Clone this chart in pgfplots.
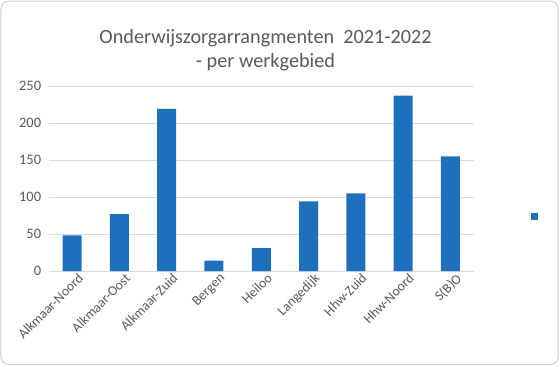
\documentclass[border=0pt]{standalone}
\usepackage{pgfplots}
\pgfplotsset{compat=1.18}
\usepackage{fontspec}
\setmainfont{Carlito}
\definecolor{barblue}{HTML}{1F70BC}
\definecolor{txtgray}{HTML}{595959}
\definecolor{gridgray}{HTML}{D9D9D9}
\definecolor{framegray}{HTML}{D0D0D0}
\pgfplotstableread{
x y
0 48
1 77
2 219
3 14
4 31
5 94
6 105
7 237
8 155
}\datatable
\begin{document}
\begin{tikzpicture}[x=1bp,y=1bp]
\useasboundingbox (-48.6,-95) rectangle (511.4,271);
\draw[framegray, line width=1bp, rounded corners=8bp] (-47.6,-93.5) rectangle (509.6,270);
\begin{axis}[
  at={(0,0)}, anchor=south west,
  scale only axis, width=425.3bp, height=185bp,
  ymin=0, ymax=250, ytick={0,50,...,250},
  xmin=-0.5, xmax=8.5, xtick={0,...,8},
  xticklabels={Alkmaar-Noord,Alkmaar-Oost,Alkmaar-Zuid,Bergen,Heiloo,Langedijk,Hhw-Zuid,Hhw-Noord,S(B)O},
  ybar, bar width=19bp,
  ymajorgrids, major grid style={gridgray, line width=0.9bp},
  axis line style={draw=none},
  major tick length=0pt,
  tick label style={txtgray, font=\fontsize{14.5}{16}\selectfont},
  /pgf/number format/assume math mode=true,
  yticklabel style={xshift=-4bp},
  xticklabel style={rotate=45, anchor=north east, yshift=-1bp, xshift=6bp, font=\fontsize{13.8}{16}\selectfont},
  title={Onderwijszorgarrangmenten\ \ 2021-2022\\- per werkgebied},
  title style={align=center, txtgray, font=\fontsize{20.3}{24}\selectfont, at={(0.51,1)}, anchor=south, yshift=6bp},
  legend style={at={(1.147,0.295)}, anchor=center, draw=none, fill=none},
  legend image code/.code={\fill[barblue] (-3.5bp,-3.5bp) rectangle (3.5bp,3.5bp);},
]
\addplot[fill=barblue, draw=none] table[x=x,y=y] {\datatable};
\addlegendentry{}
\end{axis}
\end{tikzpicture}
\end{document}
